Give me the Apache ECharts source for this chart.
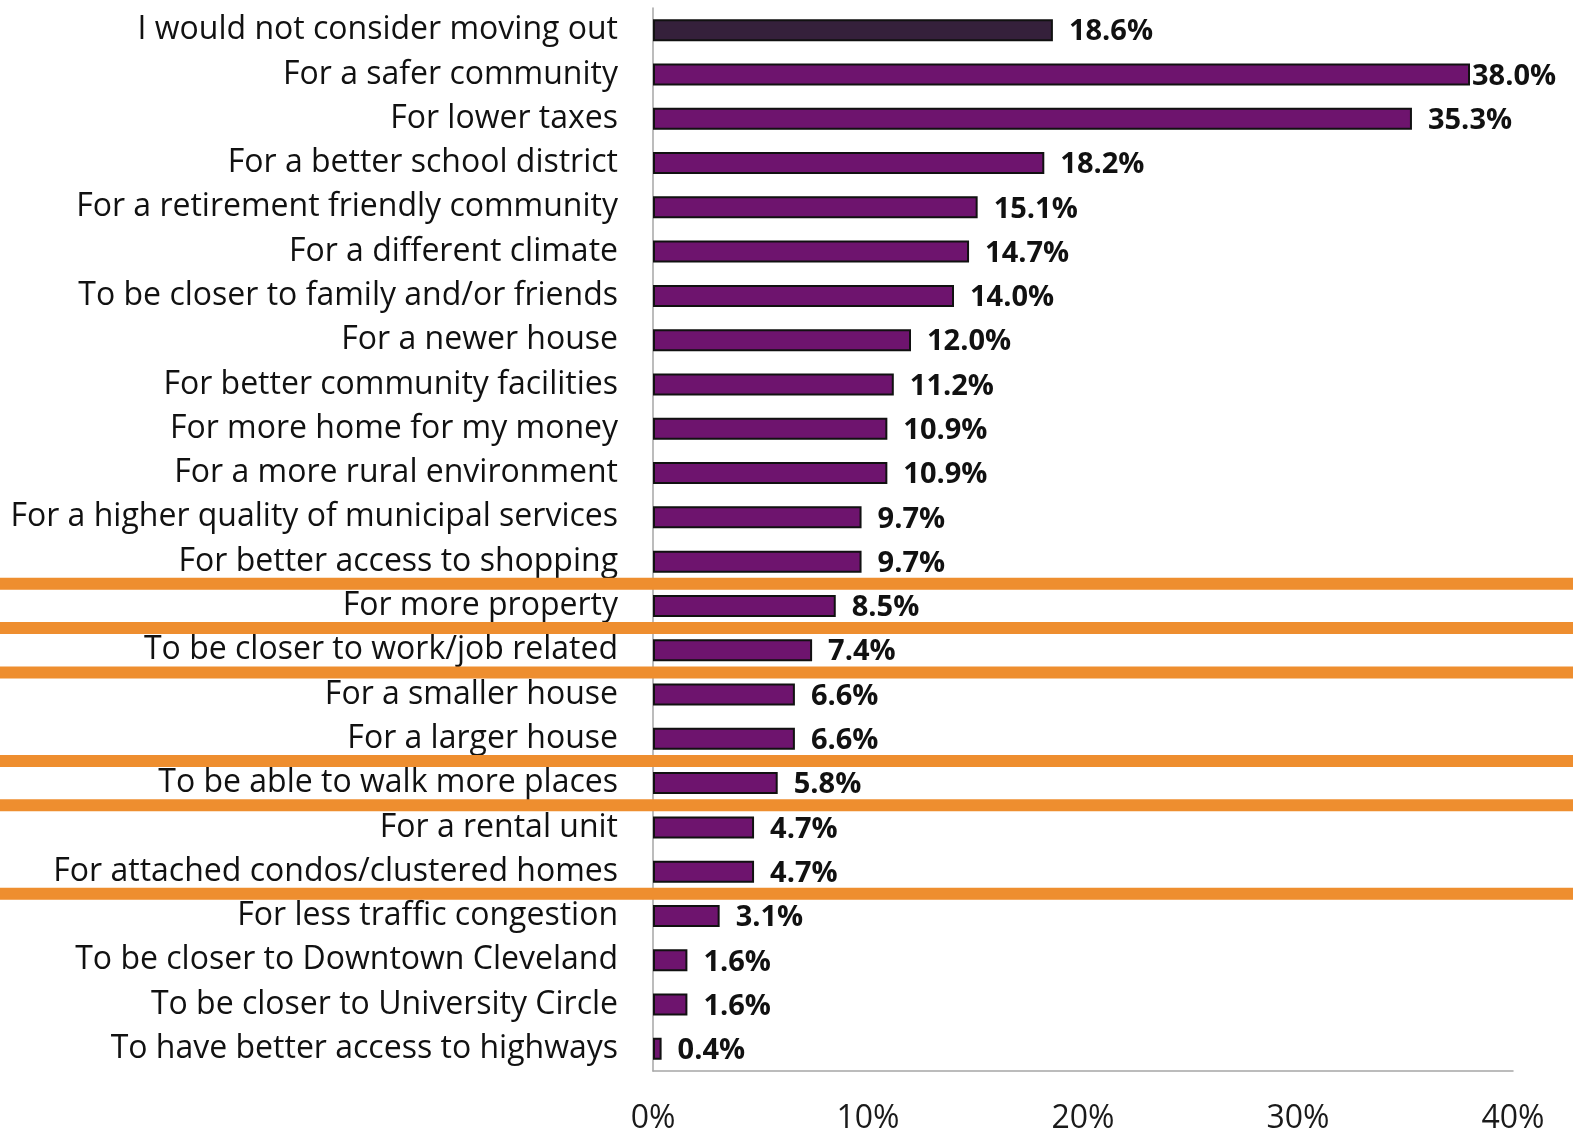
<!DOCTYPE html>
<html>
<head>
<meta charset="utf-8">
<script src="https://cdn.jsdelivr.net/npm/echarts@6/dist/echarts.min.js"></script>
<style>
html,body{margin:0;padding:0;background:#fff;}
#c{width:1573px;height:1135px;}
</style>
</head>
<body>
<div id="c"></div>
<script>
const categories = [
  "I would not consider moving out",
  "For a safer community",
  "For lower taxes",
  "For a better school district",
  "For a retirement friendly community",
  "For a different climate",
  "To be closer to family and/or friends",
  "For a newer house",
  "For better community facilities",
  "For more home for my money",
  "For a more rural environment",
  "For a higher quality of municipal services",
  "For better access to shopping",
  "For more property",
  "To be closer to work/job related",
  "For a smaller house",
  "For a larger house",
  "To be able to walk more places",
  "For a rental unit",
  "For attached condos/clustered homes",
  "For less traffic congestion",
  "To be closer to Downtown Cleveland",
  "To be closer to University Circle",
  "To have better access to highways"
];
const values = [18.6, 38.0, 35.3, 18.2, 15.1, 14.7, 14.0, 12.0, 11.2, 10.9, 10.9, 9.7, 9.7, 8.5, 7.4, 6.6, 6.6, 5.8, 4.7, 4.7, 3.1, 1.6, 1.6, 0.4];
const highlightIndex = 0;            // the dark bar
const separatorsAfter = [12, 13, 14, 16, 17, 19]; // orange lines below these categories
const xTicks = [0, 10, 20, 30, 40];

const DARK = '#35203b', PURPLE = '#6e146e', ORANGE = '#ee8e2f';
const chart = echarts.init(document.getElementById('c'), null, {renderer: 'canvas'});

const option = {
  animation: false,
  backgroundColor: '#fff',
  grid: {left: 653, right: 60, top: 8, bottom: 62, containLabel: false},
  xAxis: {
    type: 'value', min: xTicks[0], max: xTicks[xTicks.length - 1], interval: 10,
    axisLine: {show: true, lineStyle: {color: '#a6a6a6', width: 1.5}},
    axisTick: {show: false},
    splitLine: {show: false},
    axisLabel: {
      formatter: v => v + '%', margin: 32,
      fontFamily: 'Open Sans', fontSize: 32, color: '#1a1a1a'
    }
  },
  yAxis: {
    type: 'category', data: categories, inverse: true,
    axisLine: {show: true, lineStyle: {color: '#a6a6a6', width: 1.5}},
    axisTick: {show: false},
    axisLabel: {margin: 35, fontFamily: 'Open Sans', fontSize: 32, color: '#111'}
  },
  series: [{
    type: 'bar',
    data: values.map((v, i) => ({
      value: v,
      itemStyle: {color: i === highlightIndex ? DARK : PURPLE},
      label: v === Math.max(...values) ? {distance: 2} : undefined
    })),
    barWidth: 22,
    itemStyle: {borderColor: '#111', borderWidth: 2},
    label: {
      show: true, position: 'right', distance: 16,
      formatter: p => p.value.toFixed(1) + '%',
      fontFamily: 'Open Sans', fontWeight: 'bold', fontSize: 29, color: '#111',
      offset: [0, 2]
    }
  }]
};
chart.setOption(option);

// orange separator lines placed between categories using the axis scale
const lines = separatorsAfter.map(i => {
  const y1 = chart.convertToPixel({yAxisIndex: 0}, categories[i]);
  const y2 = chart.convertToPixel({yAxisIndex: 0}, categories[i + 1]);
  const y = (y1 + y2) / 2;
  return {
    type: 'line', z: 100,
    shape: {x1: 0, y1: y, x2: 1573, y2: y},
    style: {stroke: ORANGE, lineWidth: 12}
  };
});
chart.setOption({graphic: lines});
</script>
</body>
</html>
